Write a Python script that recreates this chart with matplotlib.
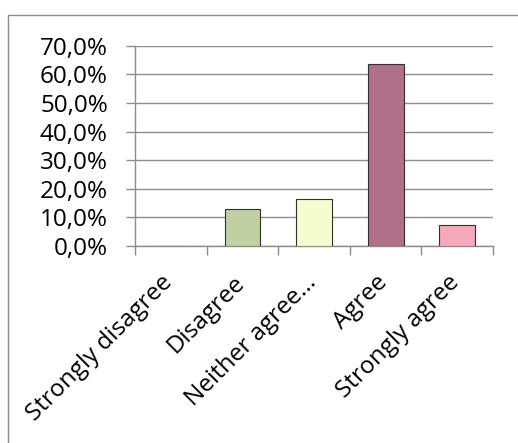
import matplotlib.pyplot as plt
import matplotlib.transforms as mtransforms
from matplotlib.patches import Rectangle
from matplotlib.ticker import FuncFormatter, FixedLocator

categories = ["Strongly disagree", "Disagree", "Neither agree...", "Agree", "Strongly agree"]
values = [0.0, 12.8, 16.3, 63.6, 7.3]
colors = ["#4f81bd", "#c0d0a0", "#f5fdd0", "#b07088", "#f5a8b8"]

plt.rcParams["font.family"] = ["Open Sans", "DejaVu Sans"]

fig = plt.figure(figsize=(5.18, 4.43), dpi=100)
ax = fig.add_axes([135 / 518, 1 - 246 / 443, 358 / 518, 200.3 / 443])

x = list(range(len(categories)))
ax.bar(x, values, width=0.5, color=colors, edgecolor="#303030", linewidth=0.8, zorder=3)

ax.set_xlim(-0.5, len(categories) - 0.5)
ax.set_ylim(0, 70)
ax.set_yticks(range(0, 71, 10))
ax.yaxis.set_major_formatter(FuncFormatter(lambda v, p: f"{v:.1f}%".replace(".", ",")))
ax.grid(axis="y", color="#8c8c8c", linewidth=1.0, zorder=0)

ax.set_xticks(x)
ax.set_xticklabels(categories, rotation=45, ha="right", rotation_mode="anchor")
ax.xaxis.set_minor_locator(FixedLocator([i - 0.5 for i in range(len(categories) + 1)]))
ax.tick_params(axis="x", which="major", length=0, pad=18, labelsize=17.5)
ax.tick_params(axis="x", which="minor", length=6.5, color="#8c8c8c", width=1.0)
ax.tick_params(axis="y", length=6.5, color="#8c8c8c", width=1.0, labelsize=17.5, pad=13)

# nudge rotated labels a little to the left
shift = mtransforms.ScaledTranslation(-0.10, 0, fig.dpi_scale_trans)
for lbl in ax.get_xticklabels():
    lbl.set_transform(lbl.get_transform() + shift)

for side in ["top", "right"]:
    ax.spines[side].set_visible(False)
for side in ["left", "bottom"]:
    ax.spines[side].set_color("#8c8c8c")
    ax.spines[side].set_linewidth(1.0)

fig.patches.append(Rectangle((8 / 518, -0.1), 1.0, 1.1 - 14.5 / 443,
                             transform=fig.transFigure, fill=False,
                             edgecolor="#8c8c8c", linewidth=1.0))

fig.savefig("out.png", dpi=100)
